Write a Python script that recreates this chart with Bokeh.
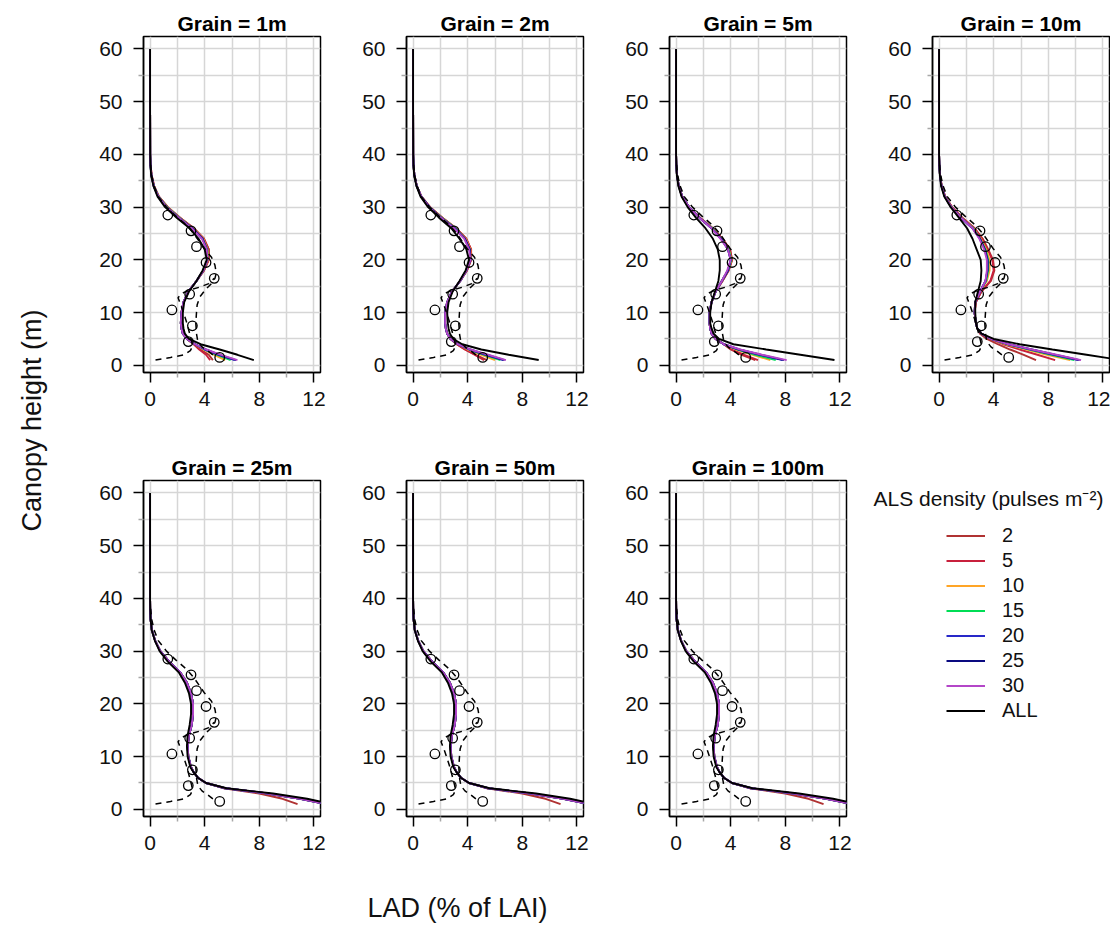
import math
from bokeh.plotting import figure
from bokeh.layouts import row, column
from bokeh.models import FixedTicker, Range1d, Label, Legend, LegendItem
from bokeh.embed import file_html
from bokeh.resources import INLINE

FONT = "Liberation Sans"

# ---------------- data ----------------
HEIGHTS = [1, 2, 3, 4, 5, 6, 7, 8, 10, 12, 14, 16, 18, 20, 22, 24, 26, 28, 30, 32, 34, 36, 38, 40, 50, 60]
DENSITIES = ["2", "5", "10", "15", "20", "25", "30", "ALL"]
COLORS = ["#B03232", "#C8203C", "#FFA526", "#00DD55", "#2828C8", "#0A0A80", "#B446C8", "#000000"]

X_TICKS = [0, 4, 8, 12]
X_MINOR = [2, 6, 10]
X_GRID = [0, 2, 4, 6, 8, 10, 12]
Y_TICKS = [0, 10, 20, 30, 40, 50, 60]
Y_MINOR = [5, 15, 25, 35, 45, 55]
Y_GRID = [0, 5, 10, 15, 20, 25, 30, 35, 40, 45, 50, 55, 60]

# field observations (circles)
obs_lad = [5.1, 2.8, 3.1, 1.6, 2.9, 4.7, 4.1, 3.4, 3.0, 1.3]
obs_height = [1.5, 4.5, 7.5, 10.5, 13.5, 16.5, 19.5, 22.5, 25.5, 28.5]

# dashed envelopes
env_a_lad = [0.4, 1.5, 2.5, 2.95, 3.1, 3.05, 2.9, 2.7, 2.45, 2.25, 2.05, 2.3, 2.9, 3.6, 4.3, 4.7]
env_a_height = [1.0, 1.5, 2.0, 2.8, 3.5, 4.5, 6.0, 8.0, 10.0, 11.5, 12.8, 13.6, 14.3, 14.8, 15.5, 16.5]
env_b_lad = [4.6, 4.2, 3.8, 3.5, 3.4, 3.35, 3.4, 3.45, 3.65, 4.1, 4.5, 4.75, 4.85, 4.75, 4.5, 4.0, 3.6, 3.2, 2.7, 1.9, 1.2, 0.6, 0.3, 0.12, 0.04]
env_b_height = [2.0, 2.8, 3.5, 4.5, 6.0, 8.0, 10.0, 11.5, 13.0, 14.5, 15.5, 16.5, 17.5, 19.0, 20.5, 22.0, 23.5, 25.0, 26.5, 28.3, 30.0, 32.0, 34.0, 36.0, 38.0]

# LAD profiles, order: 2, 5, 10, 15, 20, 25, 30, ALL
grain_1m = [
    [4.6, 4.3, 3.7, 3.2, 2.7, 2.45, 2.35, 2.3, 2.3, 2.45, 2.8, 3.4, 3.95, 4.3, 4.3, 3.95, 3.2, 2.2, 1.3, 0.65, 0.3, 0.12, 0.04, 0.01, 0, 0],
    [4.4, 4.1, 3.6, 3.2, 2.7, 2.4, 2.3, 2.25, 2.3, 2.45, 2.8, 3.4, 3.95, 4.3, 4.3, 3.95, 3.2, 2.2, 1.3, 0.65, 0.3, 0.12, 0.04, 0.01, 0, 0],
    [5.5, 4.7, 3.9, 3.3, 2.7, 2.4, 2.3, 2.25, 2.3, 2.45, 2.8, 3.4, 3.9, 4.25, 4.2, 3.9, 3.15, 2.15, 1.25, 0.62, 0.28, 0.1, 0.03, 0.01, 0, 0],
    [5.9, 4.9, 4.0, 3.3, 2.7, 2.4, 2.3, 2.25, 2.3, 2.45, 2.8, 3.4, 3.9, 4.2, 4.2, 3.85, 3.1, 2.15, 1.25, 0.62, 0.28, 0.1, 0.03, 0.01, 0, 0],
    [6.2, 5.0, 4.0, 3.3, 2.7, 2.4, 2.3, 2.25, 2.3, 2.45, 2.8, 3.4, 3.9, 4.2, 4.15, 3.85, 3.1, 2.1, 1.2, 0.6, 0.27, 0.1, 0.03, 0.01, 0, 0],
    [6.3, 5.1, 4.1, 3.3, 2.7, 2.4, 2.3, 2.25, 2.3, 2.45, 2.8, 3.4, 3.9, 4.2, 4.15, 3.85, 3.1, 2.1, 1.2, 0.6, 0.27, 0.1, 0.03, 0.01, 0, 0],
    [6.4, 5.2, 4.1, 3.3, 2.7, 2.4, 2.3, 2.25, 2.3, 2.45, 2.8, 3.4, 3.9, 4.2, 4.15, 3.8, 3.05, 2.1, 1.2, 0.6, 0.27, 0.1, 0.03, 0.01, 0, 0],
    [7.6, 6.4, 5.1, 3.7, 2.85, 2.55, 2.45, 2.4, 2.4, 2.5, 2.85, 3.4, 3.85, 4.15, 4.0, 3.55, 2.9, 1.95, 1.1, 0.55, 0.25, 0.08, 0.03, 0.01, 0, 0],
]
grain_2m = [
    [5.4, 4.6, 3.8, 3.2, 2.75, 2.5, 2.4, 2.35, 2.35, 2.5, 2.85, 3.45, 3.95, 4.25, 4.25, 3.9, 3.15, 2.15, 1.25, 0.62, 0.28, 0.1, 0.03, 0.01, 0, 0],
    [5.2, 4.5, 3.8, 3.2, 2.75, 2.5, 2.4, 2.35, 2.35, 2.5, 2.85, 3.45, 3.95, 4.25, 4.25, 3.9, 3.15, 2.15, 1.25, 0.62, 0.28, 0.1, 0.03, 0.01, 0, 0],
    [6.0, 5.0, 4.0, 3.3, 2.75, 2.5, 2.4, 2.35, 2.35, 2.5, 2.85, 3.45, 3.9, 4.2, 4.2, 3.85, 3.1, 2.1, 1.2, 0.6, 0.27, 0.1, 0.03, 0.01, 0, 0],
    [6.4, 5.2, 4.1, 3.3, 2.75, 2.5, 2.4, 2.35, 2.35, 2.5, 2.85, 3.45, 3.9, 4.2, 4.15, 3.8, 3.1, 2.1, 1.2, 0.6, 0.27, 0.1, 0.03, 0.01, 0, 0],
    [6.6, 5.3, 4.1, 3.3, 2.75, 2.5, 2.4, 2.35, 2.35, 2.5, 2.85, 3.45, 3.9, 4.2, 4.15, 3.8, 3.05, 2.05, 1.2, 0.6, 0.27, 0.1, 0.03, 0.01, 0, 0],
    [6.7, 5.4, 4.2, 3.3, 2.75, 2.5, 2.4, 2.35, 2.35, 2.5, 2.85, 3.45, 3.9, 4.2, 4.15, 3.8, 3.05, 2.05, 1.2, 0.6, 0.27, 0.1, 0.03, 0.01, 0, 0],
    [6.8, 5.5, 4.2, 3.3, 2.75, 2.5, 2.4, 2.35, 2.35, 2.5, 2.85, 3.45, 3.9, 4.2, 4.1, 3.75, 3.0, 2.05, 1.15, 0.6, 0.27, 0.1, 0.03, 0.01, 0, 0],
    [9.2, 7.0, 5.0, 3.6, 2.95, 2.7, 2.6, 2.55, 2.5, 2.6, 2.9, 3.4, 3.85, 4.1, 3.9, 3.4, 2.8, 1.9, 1.1, 0.55, 0.25, 0.08, 0.03, 0.01, 0, 0],
]
grain_5m = [
    [5.8, 4.8, 4.0, 3.5, 2.9, 2.6, 2.5, 2.45, 2.45, 2.6, 2.9, 3.4, 3.85, 4.1, 3.95, 3.4, 2.7, 1.75, 0.95, 0.45, 0.2, 0.07, 0.02, 0, 0, 0],
    [6.0, 5.0, 4.1, 3.5, 2.9, 2.6, 2.5, 2.45, 2.45, 2.6, 2.9, 3.4, 3.85, 4.1, 3.95, 3.4, 2.7, 1.75, 0.95, 0.45, 0.2, 0.07, 0.02, 0, 0, 0],
    [6.9, 5.6, 4.4, 3.5, 2.9, 2.6, 2.5, 2.45, 2.45, 2.6, 2.9, 3.35, 3.8, 4.05, 3.85, 3.3, 2.65, 1.7, 0.95, 0.45, 0.2, 0.07, 0.02, 0, 0, 0],
    [7.3, 5.8, 4.5, 3.5, 2.9, 2.6, 2.5, 2.45, 2.45, 2.6, 2.9, 3.35, 3.8, 4.05, 3.85, 3.3, 2.65, 1.7, 0.95, 0.45, 0.2, 0.07, 0.02, 0, 0, 0],
    [7.8, 6.1, 4.6, 3.5, 2.9, 2.6, 2.5, 2.45, 2.45, 2.6, 2.9, 3.35, 3.8, 4.0, 3.8, 3.3, 2.6, 1.7, 0.95, 0.45, 0.2, 0.07, 0.02, 0, 0, 0],
    [7.9, 6.2, 4.6, 3.5, 2.9, 2.6, 2.5, 2.45, 2.45, 2.6, 2.9, 3.35, 3.8, 4.0, 3.8, 3.3, 2.6, 1.7, 0.95, 0.45, 0.2, 0.07, 0.02, 0, 0, 0],
    [8.1, 6.3, 4.7, 3.5, 2.9, 2.6, 2.5, 2.45, 2.45, 2.6, 2.9, 3.35, 3.75, 4.0, 3.8, 3.25, 2.6, 1.7, 0.95, 0.45, 0.2, 0.07, 0.02, 0, 0, 0],
    [11.6, 9.1, 6.6, 4.2, 3.15, 2.75, 2.6, 2.5, 2.5, 2.6, 2.85, 3.1, 3.2, 3.2, 3.05, 2.7, 2.15, 1.45, 0.85, 0.4, 0.17, 0.06, 0.02, 0, 0, 0],
]
grain_10m = [
    [7.1, 6.2, 5.2, 4.3, 3.5, 3.0, 2.8, 2.7, 2.6, 2.7, 3.1, 3.8, 4.05, 3.95, 3.6, 3.2, 2.6, 1.7, 0.95, 0.45, 0.2, 0.07, 0.02, 0, 0, 0],
    [8.5, 7.2, 5.9, 4.7, 3.7, 3.05, 2.8, 2.7, 2.6, 2.7, 3.1, 3.75, 4.0, 3.9, 3.55, 3.15, 2.6, 1.7, 0.95, 0.45, 0.2, 0.07, 0.02, 0, 0, 0],
    [9.6, 7.9, 6.4, 4.9, 3.8, 3.1, 2.8, 2.7, 2.6, 2.65, 3.0, 3.5, 3.7, 3.7, 3.45, 3.05, 2.5, 1.65, 0.92, 0.43, 0.19, 0.07, 0.02, 0, 0, 0],
    [9.9, 8.2, 6.6, 5.0, 3.8, 3.1, 2.8, 2.7, 2.6, 2.65, 3.0, 3.45, 3.6, 3.6, 3.4, 3.0, 2.5, 1.6, 0.9, 0.42, 0.18, 0.07, 0.02, 0, 0, 0],
    [10.2, 8.4, 6.7, 5.1, 3.8, 3.1, 2.8, 2.7, 2.6, 2.65, 3.0, 3.4, 3.55, 3.55, 3.35, 3.0, 2.45, 1.6, 0.9, 0.42, 0.18, 0.07, 0.02, 0, 0, 0],
    [10.3, 8.5, 6.8, 5.1, 3.8, 3.1, 2.8, 2.7, 2.6, 2.65, 3.0, 3.4, 3.55, 3.55, 3.35, 3.0, 2.45, 1.6, 0.9, 0.42, 0.18, 0.07, 0.02, 0, 0, 0],
    [10.4, 8.6, 6.8, 5.1, 3.8, 3.1, 2.8, 2.7, 2.6, 2.65, 3.0, 3.4, 3.5, 3.5, 3.3, 2.95, 2.45, 1.6, 0.9, 0.42, 0.18, 0.07, 0.02, 0, 0, 0],
    [13.3, 10.8, 8.3, 5.9, 4.0, 3.1, 2.8, 2.7, 2.65, 2.65, 2.85, 3.05, 3.1, 3.05, 2.75, 2.45, 2.05, 1.45, 0.85, 0.38, 0.15, 0.06, 0.02, 0, 0, 0],
]
coarse_d2 = [10.8, 9.7, 8.0, 5.4, 4.1, 3.5, 3.2, 3.0, 2.8, 2.75, 2.85, 3.05, 3.15, 3.15, 3.0, 2.7, 2.2, 1.4, 0.75, 0.37, 0.13, 0.04, 0.01, 0, 0, 0]
coarse_dens = [12.9, 11.0, 8.6, 5.5, 4.1, 3.5, 3.2, 3.0, 2.8, 2.75, 2.85, 3.05, 3.15, 3.15, 3.0, 2.7, 2.2, 1.4, 0.75, 0.37, 0.13, 0.04, 0.01, 0, 0, 0]
coarse_all = [13.3, 11.5, 9.0, 5.6, 4.1, 3.5, 3.2, 2.95, 2.75, 2.7, 2.75, 2.9, 3.0, 3.0, 2.85, 2.55, 2.1, 1.3, 0.7, 0.35, 0.12, 0.04, 0.01, 0, 0, 0]
grain_25m = [coarse_d2] + [coarse_dens] * 6 + [coarse_all]
grain_50m = [coarse_d2] + [coarse_dens] * 6 + [coarse_all]
grain_100m = [coarse_d2] + [coarse_dens] * 6 + [coarse_all]

TITLES = ["Grain = 1m", "Grain = 2m", "Grain = 5m", "Grain = 10m", "Grain = 25m", "Grain = 50m", "Grain = 100m"]
PROFILES = [grain_1m, grain_2m, grain_5m, grain_10m, grain_25m, grain_50m, grain_100m]


def make_panel(title, series, width, height, top, bottom, right):
    p = figure(width=width, height=height,
               x_range=Range1d(-0.48, 12.48), y_range=Range1d(-1.36, 62.36),
               output_backend="svg", toolbar_location=None,
               min_border_left=78, min_border_right=right,
               min_border_top=top, min_border_bottom=bottom, title=title)
    p.title.align = "center"
    p.title.text_font = FONT
    p.title.text_font_size = "21px"
    p.title.text_font_style = "bold"
    p.title.text_color = "black"
    p.title.standoff = 4
    p.background_fill_color = "white"
    p.border_fill_color = "white"
    p.outline_line_color = "black"
    p.outline_line_width = 1.5
    p.xaxis.ticker = FixedTicker(ticks=X_TICKS, minor_ticks=X_MINOR)
    p.yaxis.ticker = FixedTicker(ticks=Y_TICKS, minor_ticks=Y_MINOR)
    p.xgrid.ticker = FixedTicker(ticks=X_GRID)
    p.ygrid.ticker = FixedTicker(ticks=Y_GRID)
    for g in (p.xgrid, p.ygrid):
        g.grid_line_color = "#D6D6D6"
        g.grid_line_width = 1.5
    for ax in (p.xaxis, p.yaxis):
        ax.axis_line_color = "black"
        ax.axis_line_width = 1.5
        ax.major_tick_line_color = "black"
        ax.major_tick_line_width = 1.5
        ax.major_tick_out = 10
        ax.major_tick_in = 0
        ax.minor_tick_line_color = "#A8A8A8"
        ax.minor_tick_line_width = 1.5
        ax.minor_tick_out = 5
        ax.minor_tick_in = 0
        ax.major_label_text_font = FONT
        ax.major_label_text_font_size = "21px"
        ax.major_label_text_color = "#111111"
    p.yaxis.major_label_standoff = 11
    p.xaxis.major_label_standoff = 9

    for vals, col in zip(series, COLORS):
        p.line(vals, HEIGHTS, line_color=col, line_width=1.9)
    p.line(env_a_lad, env_a_height, line_color="black", line_width=1.5, line_dash="6 5")
    p.line(env_b_lad, env_b_height, line_color="black", line_width=1.5, line_dash="6 5")
    p.scatter(obs_lad, obs_height, marker="circle", size=9.5, fill_color=None,
              line_color="black", line_width=1.3)
    return p


panels = []
for i, (t, s) in enumerate(zip(TITLES, PROFILES)):
    top_row = i < 4
    last_col = (i == 3)
    panels.append(make_panel(t, s,
                             256 if last_col else 263,
                             450 if top_row else 420,
                             36 if top_row else 30,
                             78 if top_row else 54,
                             1 if last_col else 8))

# legend panel (frame spans the same vertical extent as the neighbouring panels)
lg = figure(width=256, height=420, x_range=Range1d(0, 1), y_range=Range1d(0, 1),
            output_backend="svg", toolbar_location=None,
            min_border_left=0, min_border_right=0, min_border_top=30, min_border_bottom=54,
            x_axis_location=None, y_axis_location=None)
lg.grid.visible = False
lg.outline_line_color = None
items = []
for lab, col in zip(DENSITIES, COLORS):
    r = lg.line(x=[-5, -4], y=[-5, -5], line_color=col, line_width=2)
    items.append(LegendItem(label=lab, renderers=[r]))
legend = Legend(items=items, location=(92, 93), orientation="vertical",
                glyph_width=39, glyph_height=25, label_height=25, label_standoff=17,
                spacing=0, padding=0, margin=0,
                border_line_color=None, background_fill_alpha=0,
                label_text_font=FONT, label_text_font_size="20px", label_text_color="#111111")
lg.add_layout(legend)
lg.add_layout(Label(x=19, y=318, x_units="screen", y_units="screen",
                    text="ALS density (pulses m\u207B\u00B2)", text_baseline="middle",
                    text_font=FONT, text_font_size="21px", text_color="#111111"))

# y label
yl = figure(width=65, height=870, x_range=Range1d(0, 65), y_range=Range1d(0, 870),
            output_backend="svg", toolbar_location=None, min_border=0,
            x_axis_location=None, y_axis_location=None)
yl.grid.visible = False
yl.outline_line_color = None
yl.add_layout(Label(x=31, y=450, angle=math.pi / 2, text="Canopy height (m)",
                    text_align="center", text_baseline="alphabetic",
                    text_font=FONT, text_font_size="27px", text_color="#111111"))

# x label
xl = figure(width=1110, height=56, x_range=Range1d(0, 1110), y_range=Range1d(0, 56),
            output_backend="svg", toolbar_location=None, min_border=0,
            x_axis_location=None, y_axis_location=None)
xl.grid.visible = False
xl.outline_line_color = None
xl.add_layout(Label(x=457, y=19, text="LAD (% of LAI)", text_align="center",
                    text_baseline="alphabetic", text_font=FONT, text_font_size="27px",
                    text_color="#111111"))

layout = column(
    row(yl, column(row(*panels[:4]), row(*panels[4:], lg))),
    xl,
)

open("out.html", "w").write(file_html(layout, INLINE))
